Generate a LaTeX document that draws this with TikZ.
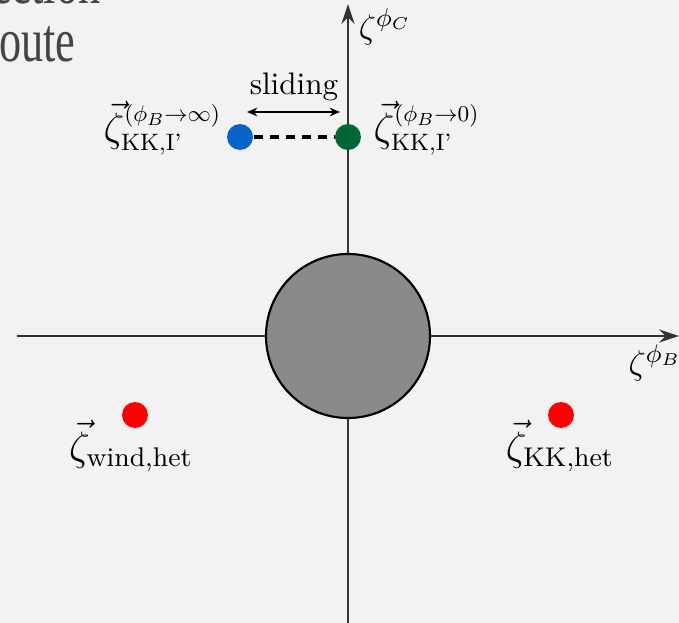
\documentclass[tikz,border=0pt]{standalone}
\usepackage{amsmath}
\usepackage{graphicx}
\usepackage{fontspec}
\newfontfamily\slidefont{Liberation Serif}
\usetikzlibrary{arrows.meta}
\definecolor{bgcol}{HTML}{F2F2F2}
\definecolor{axiscol}{HTML}{333333}
\definecolor{slidetext}{HTML}{444444}
\definecolor{blobgray}{HTML}{8A8A8A}
\definecolor{dotblue}{HTML}{0A64C8}
\definecolor{dotgreen}{HTML}{006633}
\definecolor{dotred}{HTML}{FF0000}
% compact script for the KK,I' labels
\newcommand{\smallscr}[1]{\scalebox{0.88}{$\scriptstyle #1$}}
\tikzset{
  axis/.style={draw=axiscol, line width=0.55pt, -{Stealth[length=7pt,width=4.6pt]}},
  dot/.style={circle, inner sep=0pt, minimum size=9.1pt},
  lbl/.style={inner sep=0pt, font=\fontsize{13.5}{16}\selectfont},
  axlbl/.style={inner sep=0pt, font=\fontsize{12.5}{15}\selectfont},
  slidefrag/.style={inner sep=0pt, anchor=base east, text=slidetext,
    font=\slidefont\fontsize{15.5}{18}\selectfont},
}
\begin{document}
\begin{tikzpicture}[x=0.35pt, y=-0.35pt]
  \useasboundingbox (0,0) rectangle (679,623);
  \fill[bgcol] (0,0) rectangle (679,623);
  \begin{scope}
    \clip (0,0) rectangle (679,623);
    % slide title fragments cut by the frame
    \node[slidefrag] (t1) at (101,3) {\scalebox{1}[1.4]{ection}};
    \node[slidefrag] (t2) at (76,61) {\scalebox{1}[1.4]{route}};
  \end{scope}

  % axes
  \coordinate (xl) at (17,336);
  \coordinate (xr) at (679,336);
  \coordinate (yb) at (348,623);
  \coordinate (yt) at (348,4);
  \draw[axis] (xl) -- (xr);
  \draw[axis] (yb) -- (yt);
  \node[axlbl] (lb) at (655,363) {$\zeta^{\phi_B}$};
  \node[axlbl] (lc) at (385,27) {$\zeta^{\phi_C}$};

  % central disc
  \node[circle, draw=black, line width=0.75pt, fill=blobgray,
        minimum size=57.4pt, inner sep=0pt] (disc) at (348,336) {};

  % sliding KK points
  \node[dot, fill=dotblue] (pinf) at (240,137) {};
  \node[dot, fill=dotgreen] (pzero) at (348,137) {};
  \draw[line width=1.4pt, dash pattern=on 3.4pt off 2.2pt] (pinf) -- (pzero);
  \node[lbl, anchor=east] (linf) at (222,128)
    {$\vec{\zeta}^{\smallscr{(\phi_B\to\infty)}}_{\smallscr{\text{KK,I'}}}$};
  \node[lbl, anchor=west] (lzero) at (373,128)
    {$\vec{\zeta}^{\smallscr{(\phi_B\to0)}}_{\smallscr{\text{KK,I'}}}$};
  \node[inner sep=0pt, font=\fontsize{10.9}{13}\selectfont] (slide) at (294,87) {sliding};
  \coordinate (sa) at (247,112);
  \coordinate (sb) at (340,112);
  \draw[line width=0.45pt, {Stealth[length=3.6pt,width=3pt]}-{Stealth[length=3.6pt,width=3pt]}] (sa) -- (sb);

  % heterotic points
  \node[dot, fill=dotred] (pwind) at (135,415) {};
  \node[dot, fill=dotred] (pkk) at (561,415) {};
  \node[lbl] (lwind) at (131,446) {$\vec{\zeta}_{\text{wind,het}}$};
  \node[lbl] (lkk) at (560,446) {$\vec{\zeta}_{\text{KK,het}}$};
\end{tikzpicture}
\end{document}
